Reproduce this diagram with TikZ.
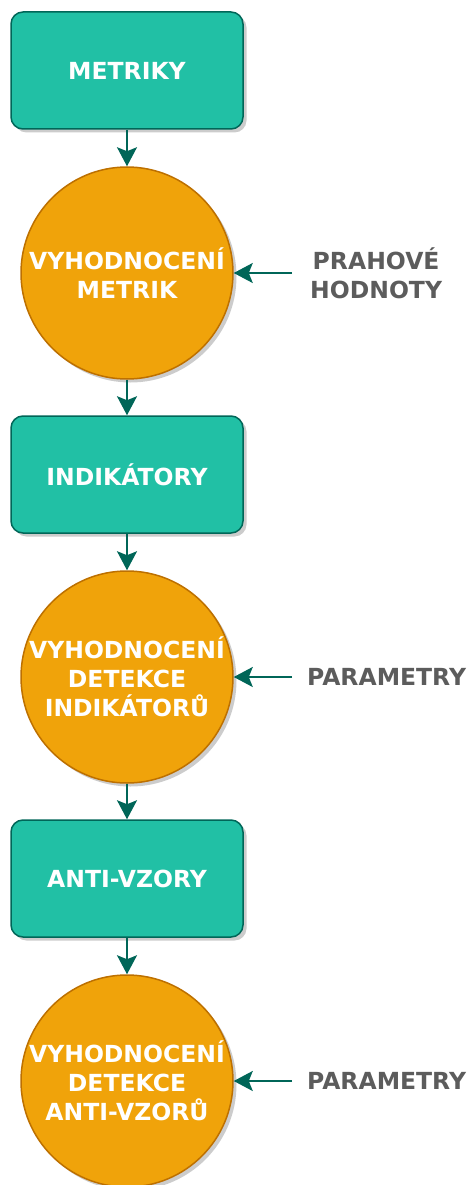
\documentclass[tikz,border=0pt]{standalone}
\usepackage{fontspec}
\setmainfont{DejaVu Sans}
\usetikzlibrary{arrows.meta,shadows}
\definecolor{tealfill}{HTML}{21C0A5}
\definecolor{tealline}{HTML}{006658}
\definecolor{orfill}{HTML}{F0A30A}
\definecolor{orline}{HTML}{BD7000}
\definecolor{lblgray}{HTML}{5C5C5C}
\begin{document}
\begin{tikzpicture}[x=1pt,y=-1pt,
  >={Stealth[length=19pt,width=20pt,inset=4pt]},
  softshadow/.style={drop shadow={shadow xshift=3.5pt,shadow yshift=-3.5pt,opacity=0.2,fill=black}},
  txt/.style={font=\bfseries\fontsize{23.5}{29}\selectfont,align=center},
  box/.style={txt,draw=tealline,fill=tealfill,line width=1.5pt,rounded corners=12pt,
    minimum width=232pt,minimum height=117pt,text=white,softshadow},
  circ/.style={txt,circle,draw=orline,fill=orfill,line width=1.5pt,minimum size=212pt,
    inner sep=0pt,text=white,softshadow},
  lbl/.style={txt,text=lblgray,anchor=west,inner ysep=0pt},
  arr/.style={draw=tealline,line width=2.2pt,->}
]
\useasboundingbox (0,0) rectangle (469,1185);
\node[box] (m) at (127,70.5) {METRIKY};
\node[circ] (c1) at (127,273) {VYHODNOCENÍ\\METRIK};
\node[box] (i) at (127,474.5) {INDIKÁTORY};
\node[circ] (c2) at (127,677) {VYHODNOCENÍ\\DETEKCE\\INDIKÁTORŮ};
\node[box] (a) at (127,878.5) {ANTI-VZORY};
\node[circ] (c3) at (127,1081) {VYHODNOCENÍ\\DETEKCE\\ANTI-VZORŮ};
\node[lbl,inner xsep=18pt] (p1) at (292,273) {PRAHOVÉ\\HODNOTY};
\node[lbl,inner xsep=15pt] (p2) at (292,677) {PARAMETRY};
\node[lbl,inner xsep=15pt] (p3) at (292,1081) {PARAMETRY};
\draw[arr] (m) -- (c1);
\draw[arr] (c1) -- (i);
\draw[arr] (i) -- (c2);
\draw[arr] (c2) -- (a);
\draw[arr] (a) -- (c3);
\draw[arr] (p1.west) -- (c1.east);
\draw[arr] (p2.west) -- (c2.east);
\draw[arr] (p3.west) -- (c3.east);
\end{tikzpicture}
\end{document}
